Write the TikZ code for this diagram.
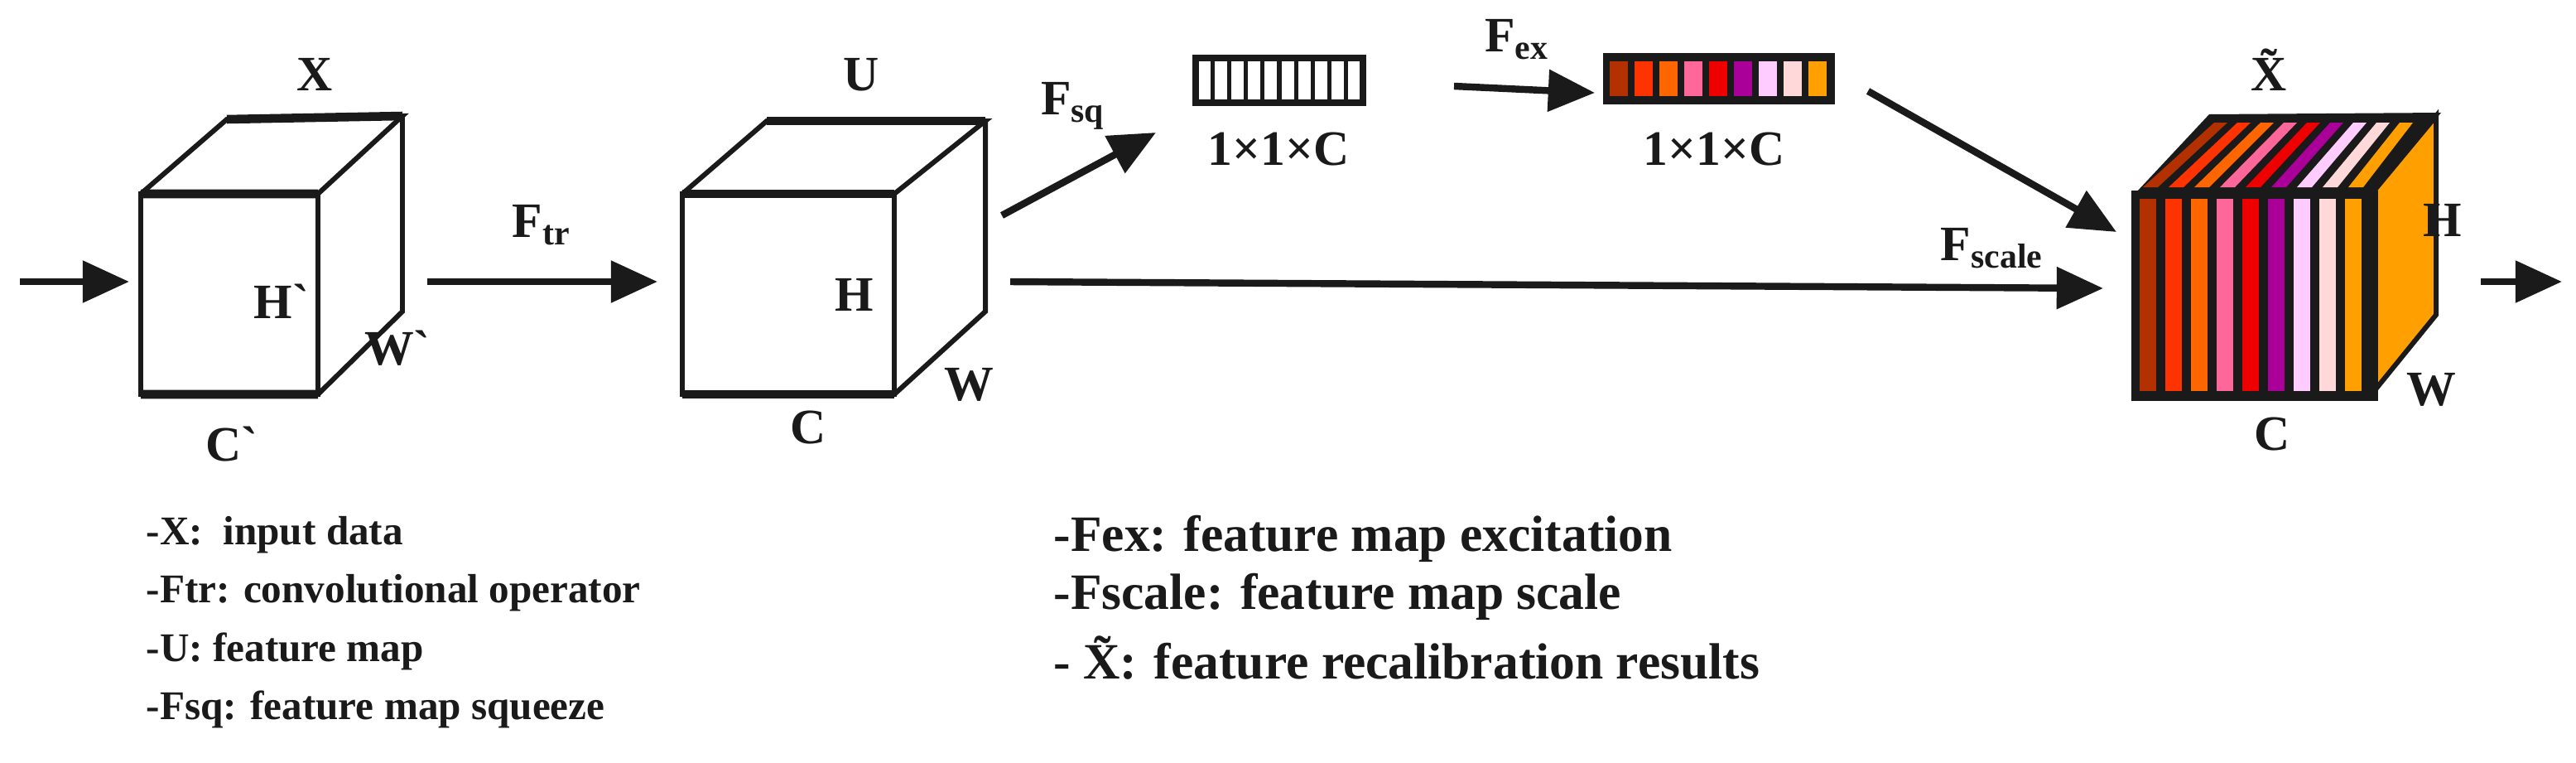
\documentclass[tikz,border=0pt]{standalone}
\usepackage{fontspec}
\setmainfont{Liberation Serif}
\usetikzlibrary{arrows.meta}
\definecolor{c1}{HTML}{B33000}\definecolor{c2}{HTML}{FF3300}\definecolor{c3}{HTML}{FF6600}
\definecolor{c4}{HTML}{FF6699}\definecolor{c5}{HTML}{EE0000}\definecolor{c6}{HTML}{AA0099}
\definecolor{c7}{HTML}{FFCCFF}\definecolor{c8}{HTML}{FFD9D9}\definecolor{c9}{HTML}{FFA000}
\definecolor{ink}{HTML}{1A1A1A}
\begin{document}
\begin{tikzpicture}[x=0.02cm,y=-0.02cm,
  edge/.style={draw=ink,line width=1.7pt,line join=miter},
  arr/.style={draw=ink,line width=2.4pt,-{Triangle[length=16pt,width=14pt]}},
  lab/.style={font=\fontsize{17}{17}\selectfont\bfseries,text=ink,inner sep=0},
  leg/.style={font=\fontsize{14}{15}\selectfont\bfseries,text=ink,anchor=west,inner sep=0},
  legr/.style={font=\fontsize{17.5}{18}\selectfont\bfseries,text=ink,anchor=west,inner sep=0}]
\useasboundingbox (0,0) rectangle (1555.5,460);
% cube X
\draw[edge] (85,117) rectangle (192,238);
\draw[edge] (85,117) -- (137,72) -- (243,70) -- (192,117);
\draw[edge] (243,70) -- (243,188) -- (192,238);
\draw[ink,line width=3pt] (137,72)--(243,70) (85,117)--(192,117) (85,238)--(192,238);
\node[lab] (lx) at (190,45) {X};
\node[lab] (lh1) at (170,182) {H\textasciigrave};
\node[lab] (lw1) at (240,210) {W\textasciigrave};
\node[lab] (lc1) at (140,268) {C\textasciigrave};
% cube U
\draw[edge] (412,117) rectangle (540,238);
\draw[edge] (412,117) -- (463,73) -- (595,73) -- (540,117);
\draw[edge] (595,73) -- (595,188) -- (540,238);
\draw[ink,line width=3pt] (463,73)--(595,73) (412,117)--(540,117) (412,238)--(540,238);
\node[lab] (lu) at (520,45) {U};
\node[lab] (lh2) at (516,178) {H};
\node[lab] (lw2) at (585,232) {W};
\node[lab] (lc2) at (488,258) {C};
% arrows
\coordinate (in0) at (12,170); \coordinate (in1) at (78,170);
\draw[arr] (in0) -- (in1);
\coordinate (t0) at (258,170); \coordinate (t1) at (397,170);
\draw[arr] (t0) -- (t1);
\node[lab] (ftr) at (327,136) {F\textsubscript{tr}};
\coordinate (s0) at (605,130); \coordinate (s1) at (698,80);
\draw[arr] (s0) -- (s1);
\node[lab] (fsq) at (648,64) {F\textsubscript{sq}};
% box 1
\draw[ink,line width=2.2pt] (722,35) rectangle (823,62);
\foreach \i in {1,...,9} \draw[ink,line width=1.5pt] (722+\i*10.1,35) -- (722+\i*10.1,62);
\node[lab] (d1) at (772,90) {1×1×C};
\coordinate (e0) at (878,52); \coordinate (e1) at (963,56);
\draw[arr] (e0) -- (e1);
\node[lab] (fex) at (916,24) {F\textsubscript{ex}};
% coloured bar
\fill[ink] (968,32) rectangle (1108,63);
\foreach \c [count=\i from 0] in {c1,c2,c3,c4,c5,c6,c7,c8,c9}
  \fill[\c] (972+\i*15,37) rectangle (983+\i*15,58);
\node[lab] (d2) at (1035,90) {1×1×C};
\coordinate (g0) at (1128,55); \coordinate (g1) at (1278,140);
\draw[arr] (g0) -- (g1);
\coordinate (l0) at (610,170); \coordinate (l1) at (1270,174);
\draw[arr] (l0) -- (l1);
\node[lab] (fsc) at (1203,150) {F\textsubscript{scale}};
% final cube
\fill[c9] (1432,117) -- (1471,70) -- (1471,190) -- (1432,238) -- cycle;
\draw[edge] (1432,117) -- (1471,70) -- (1471,190) -- (1432,238);
\fill[ink] (1290,116) -- (1334,69) -- (1474,68) -- (1432,119) -- cycle;
\fill[ink] (1287,115) rectangle (1436,242);
\foreach \c [count=\i from 0] in {c1,c2,c3,c4,c5,c6,c7,c8,c9} {
  \fill[\c] (1292+\i*15.5,120) rectangle (1302+\i*15.5,236);
  \fill[\c] (1294+\i*15.5,113) -- (1337+\i*14,74) -- (1345+\i*14,74) -- (1303+\i*15.5,113) -- cycle;
}
\node[lab] (xt) at (1370,42) {\~X};
\node[lab] (h3) at (1475,133) {H};
\node[lab] (w3) at (1468,235) {W};
\node[lab] (c3l) at (1372,262) {C};
\coordinate (o0) at (1498,170); \coordinate (o1) at (1547,170);
\draw[arr] (o0) -- (o1);
% legend
\node[leg] (a1) at (88,323) {-X:\ \ input data};
\node[leg] (a2) at (88,358) {-Ftr: convolutional operator};
\node[leg] (a3) at (88,393) {-U: feature map};
\node[leg] (a4) at (88,428) {-Fsq: feature map squeeze};
\node[legr] (b1) at (636,325) {-Fex: feature map excitation};
\node[legr] (b2) at (636,360) {-Fscale: feature map scale};
\node[legr] (b3) at (636,397) {- \~X: feature recalibration results};
\end{tikzpicture}
\end{document}
